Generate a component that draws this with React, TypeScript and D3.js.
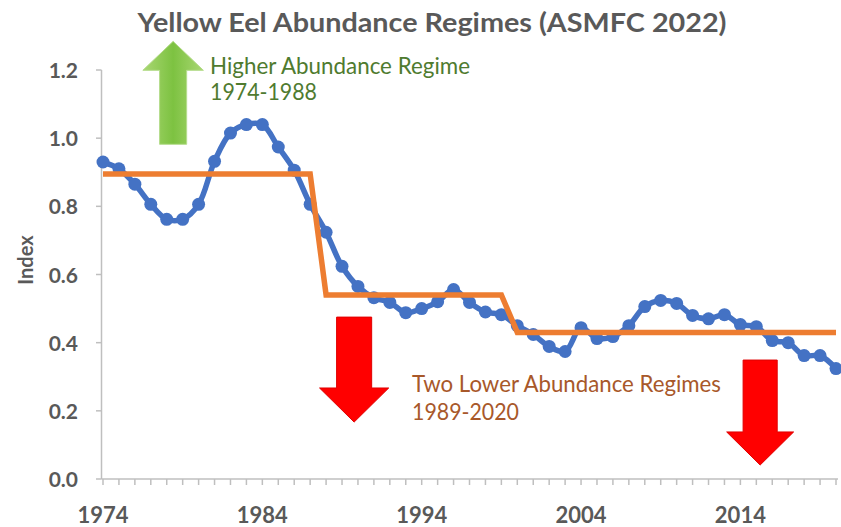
import React from "react";
import * as d3 from "d3";

const years = [
  1974, 1975, 1976, 1977, 1978, 1979, 1980, 1981, 1982, 1983, 1984, 1985, 1986, 1987, 1988, 1989,
  1990, 1991, 1992, 1993, 1994, 1995, 1996, 1997, 1998, 1999, 2000, 2001, 2002, 2003, 2004, 2005,
  2006, 2007, 2008, 2009, 2010, 2011, 2012, 2013, 2014, 2015, 2016, 2017, 2018, 2019, 2020,
];
const indexValues = [
  0.93, 0.91, 0.865, 0.806, 0.762, 0.762, 0.806, 0.932, 1.015, 1.04, 1.04, 0.974, 0.906, 0.806, 0.724, 0.624,
  0.565, 0.532, 0.518, 0.488, 0.5, 0.52, 0.556, 0.518, 0.49, 0.482, 0.45, 0.424, 0.389, 0.374, 0.444, 0.412,
  0.418, 0.45, 0.506, 0.524, 0.515, 0.48, 0.47, 0.482, 0.453, 0.447, 0.406, 0.4, 0.362, 0.362, 0.324,
];
const regimeYears = [1974, 1987, 1988, 1999, 2000, 2020];
const regimeValues = [0.895, 0.895, 0.54, 0.54, 0.43, 0.43];
const xTickLabels = [1974, 1984, 1994, 2004, 2014];
const yTickValues = [0, 0.2, 0.4, 0.6, 0.8, 1.0, 1.2];

const title = "Yellow Eel Abundance Regimes (ASMFC 2022)";
const upText = ["Higher Abundance Regime", "1974-1988"];
const downText = ["Two Lower Abundance Regimes", "1989-2020"];

// annotation arrows in data units: center year, start value, head-base value, tip value, shaft half width (yrs), head half width (yrs)
const greenArrow = { cx: 1978.4, start: 0.982, headBase: 1.199, tip: 1.284, shaft: 0.85, head: 1.9 };
const redArrows = [
  { cx: 1989.76, start: 0.475, headBase: 0.267, tip: 0.167, shaft: 1.1, head: 2.17 },
  { cx: 2015.24, start: 0.349, headBase: 0.138, tip: 0.041, shaft: 1.07, head: 2.1 },
];

const W = 841;
const H = 527;
const FONT = "Lato, 'Open Sans', sans-serif";

export default function App() {
  const x = d3.scaleLinear().domain([1974, 2020]).range([103, 836]);
  const y = d3.scaleLinear().domain([0, 1.2]).range([479, 70]);

  const pts = years.map((yr, i) => [yr, indexValues[i]] as [number, number]);
  const line = d3
    .line<[number, number]>()
    .x((d) => x(d[0]))
    .y((d) => y(d[1]))
    .curve(d3.curveCatmullRom.alpha(0.5));
  const regime = d3
    .line<[number, number]>()
    .x((d) => x(d[0]))
    .y((d) => y(d[1]));
  const regimePts = regimeYears.map((yr, i) => [yr, regimeValues[i]] as [number, number]);

  const arrowPath = (a: typeof greenArrow) => {
    const p = d3.path();
    p.moveTo(x(a.cx - a.shaft), y(a.start));
    p.lineTo(x(a.cx - a.shaft), y(a.headBase));
    p.lineTo(x(a.cx - a.head), y(a.headBase));
    p.lineTo(x(a.cx), y(a.tip));
    p.lineTo(x(a.cx + a.head), y(a.headBase));
    p.lineTo(x(a.cx + a.shaft), y(a.headBase));
    p.lineTo(x(a.cx + a.shaft), y(a.start));
    p.closePath();
    return p.toString();
  };

  const axisColor = "#BFBFBF";
  const textGray = "#595959";

  return (
    <svg width={W} height={H} style={{ position: "absolute", left: 0, top: 0, background: "#fff" }}>
      <defs>
        <linearGradient id="greenGrad" x1="0" x2="1" y1="0" y2="0">
          <stop offset="0%" stopColor="#A9D773" />
          <stop offset="50%" stopColor="#7DC241" />
          <stop offset="100%" stopColor="#A9D773" />
        </linearGradient>
      </defs>
      <rect x={0} y={0} width={W} height={H} fill="#fff" />

      {/* title */}
      <text
        x={432}
        y={32}
        textAnchor="middle"
        fontFamily={FONT}
        fontWeight={700}
        fontSize={26}
        fill={textGray}
        textLength={589}
        lengthAdjust="spacingAndGlyphs"
      >
        {title}
      </text>

      {/* axes */}
      <line x1={101.5} x2={101.5} y1={y(1.2)} y2={y(0)} stroke={axisColor} strokeWidth={1.5} />
      {yTickValues.map((v) => (
        <line key={"yt" + v} x1={96} x2={101.5} y1={y(v)} y2={y(v)} stroke={axisColor} strokeWidth={1.5} />
      ))}
      <line x1={101.5} x2={838} y1={y(0)} y2={y(0)} stroke={axisColor} strokeWidth={1.5} />
      {years.map((yr) => (
        <line key={"xt" + yr} x1={x(yr)} x2={x(yr)} y1={y(0)} y2={y(0) + 6} stroke={axisColor} strokeWidth={1.5} />
      ))}

      {yTickValues.map((v) => (
        <text
          key={"yl" + v}
          x={78}
          y={y(v) + 8}
          textAnchor="end"
          fontFamily={FONT}
          fontWeight={700}
          fontSize={21}
          fill={textGray}
        >
          {d3.format(".1f")(v)}
        </text>
      ))}
      {xTickLabels.map((yr) => (
        <text
          key={"xl" + yr}
          x={x(yr)}
          y={523}
          textAnchor="middle"
          fontFamily={FONT}
          fontWeight={700}
          fontSize={22}
          fill={textGray}
        >
          {yr}
        </text>
      ))}
      <text
        transform={`translate(33,260) rotate(-90)`}
        textAnchor="middle"
        fontFamily={FONT}
        fontWeight={700}
        fontSize={20}
        fill={textGray}
      >
        Index
      </text>

      {/* arrows */}
      <path d={arrowPath(greenArrow)} fill="url(#greenGrad)" stroke="#B5DC8C" strokeWidth={1} />
      {redArrows.map((a, i) => (
        <path key={"ra" + i} d={arrowPath(a)} fill="#FF0000" stroke="#E00000" strokeWidth={1} />
      ))}

      {/* annotations */}
      <text x={210} y={74} fontFamily={FONT} fontSize={23} fill="#4F7B2F" textLength={260} lengthAdjust="spacingAndGlyphs">
        {upText[0]}
      </text>
      <text x={210} y={100} fontFamily={FONT} fontSize={23} fill="#4F7B2F" textLength={107} lengthAdjust="spacingAndGlyphs">
        {upText[1]}
      </text>
      <text x={412} y={392} fontFamily={FONT} fontSize={23} fill="#A8582A" textLength={309} lengthAdjust="spacingAndGlyphs">
        {downText[0]}
      </text>
      <text x={412} y={420} fontFamily={FONT} fontSize={23} fill="#A8582A" textLength={107} lengthAdjust="spacingAndGlyphs">
        {downText[1]}
      </text>

      {/* index series */}
      <path d={line(pts) || ""} fill="none" stroke="#4472C4" strokeWidth={5.5} strokeLinejoin="round" />
      {pts.map((d, i) => (
        <circle key={"pt" + i} cx={x(d[0])} cy={y(d[1])} r={6.5} fill="#4472C4" />
      ))}

      {/* regime step line */}
      <path d={regime(regimePts) || ""} fill="none" stroke="#ED7D31" strokeWidth={5.5} strokeLinejoin="miter" />
    </svg>
  );
}
